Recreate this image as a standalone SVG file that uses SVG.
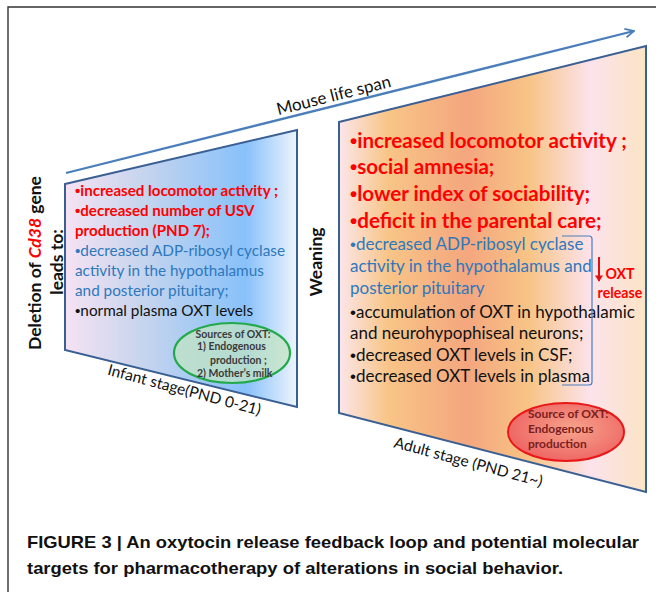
<svg xmlns="http://www.w3.org/2000/svg" width="656" height="592" viewBox="0 0 656 592">
<style>
.t{font-family:Lato,"Open Sans","Liberation Sans",sans-serif}
.bu{font-family:"Liberation Sans",Arial,sans-serif}
.b{font-weight:bold}
.red{fill:#ff0000}
.blu{fill:#2e78bd}
.blk{fill:#111}
.lb{font-size:15.1px}
.lr{font-size:15.3px}
.s16{font-size:17px}
.s19{font-size:20.6px}
.trap{stroke:#3a5f93;stroke-width:2}
.cap{font-family:"Liberation Sans Narrow","Liberation Sans",Arial,sans-serif;font-weight:bold;font-size:17px;fill:#111}
</style>
<defs>
<linearGradient id="gL" gradientUnits="userSpaceOnUse" x1="65" y1="0" x2="297" y2="0">
<stop offset="0" stop-color="#f6e2f3"/>
<stop offset="0.35" stop-color="#c4d4ee"/>
<stop offset="0.78" stop-color="#88c1fa"/>
<stop offset="1" stop-color="#eef4fc"/>
</linearGradient>
<linearGradient id="gR" gradientUnits="userSpaceOnUse" x1="339" y1="0" x2="646" y2="0">
<stop offset="0" stop-color="#fce6ea"/>
<stop offset="0.16" stop-color="#f8c587"/>
<stop offset="0.42" stop-color="#f4a67e"/>
<stop offset="0.62" stop-color="#f8c486"/>
<stop offset="0.82" stop-color="#fce3ec"/>
<stop offset="1" stop-color="#fbe4c4"/>
</linearGradient>
<radialGradient id="gE" cx="0.55" cy="0.45" r="0.6">
<stop offset="0" stop-color="#f6a48c"/>
<stop offset="1" stop-color="#ee6262"/>
</radialGradient>
<marker id="chev" viewBox="0 0 10 10" refX="9" refY="5" markerWidth="5" markerHeight="5" orient="auto" markerUnits="strokeWidth">
<path d="M1,1 L9,5 L1,9" fill="none" stroke="#4a7ebb" stroke-width="1.6"/>
</marker>
<marker id="redArr" viewBox="0 0 10 10" refX="5" refY="9" markerWidth="4" markerHeight="4" orient="0" markerUnits="strokeWidth">
<path d="M0,2 L10,2 L5,10 Z" fill="#e01010"/>
</marker>
</defs>

<g id="frame" stroke="#333" stroke-width="1.4" fill="none">
<path d="M8,592 L8,7 L656,7"/>
</g>

<g id="infant-stage">
<polygon class="trap" points="65,184 297,130 297,407 65,350" fill="url(#gL)"/>
<text class="t b red lb" x="75" y="196"><tspan class="bu">•</tspan>increased locomotor activity ;</text>
<text class="t b red lb" x="75" y="216"><tspan class="bu">•</tspan>decreased number of USV</text>
<text class="t b red lb" x="75" y="236">production (PND 7);</text>
<text class="t blu lr" x="75" y="256"><tspan class="bu">•</tspan>decreased ADP-ribosyl cyclase</text>
<text class="t blu lr" x="75" y="276">activity in the hypothalamus</text>
<text class="t blu lr" x="75" y="296">and posterior pituitary;</text>
<text class="t blk lr" x="75" y="316"><tspan class="bu">•</tspan>normal plasma OXT levels</text>
<text class="t" font-size="15.5" fill="#111" transform="translate(183,395) rotate(15)" text-anchor="middle">Infant stage(PND 0-21)</text>
</g>

<g id="infant-sources">
<ellipse cx="232" cy="353" rx="58" ry="30" fill="#c4e4c0" fill-opacity="0.72" stroke="#22aa4a" stroke-width="2.2"/>
<g class="t b" font-size="10.5" fill="#3a3a3a">
<text x="233" y="337.5" text-anchor="middle">Sources of OXT:</text>
<text x="197" y="350">1) Endogenous</text>
<text x="210" y="363.5">production ;</text>
<text x="197" y="377">2) Mother’s milk</text>
</g>
</g>

<g id="adult-stage">
<polygon class="trap" points="339,122 646,46 646,492 339,413" fill="url(#gR)"/>
<text class="t b red s19" x="350" y="148"><tspan class="bu">•</tspan>increased locomotor activity ;</text>
<text class="t b red s19" x="350" y="174"><tspan class="bu">•</tspan>social amnesia;</text>
<text class="t b red s19" x="350" y="201"><tspan class="bu">•</tspan>lower index of sociability;</text>
<text class="t b red s19" x="350" y="228"><tspan class="bu">•</tspan>deficit in the parental care;</text>
<text class="t blu s16" x="350" y="250"><tspan class="bu">•</tspan>decreased ADP-ribosyl cyclase</text>
<text class="t blu s16" x="350" y="272">activity in the hypothalamus and</text>
<text class="t blu s16" x="350" y="294">posterior pituitary</text>
<text class="t blk s16" x="350" y="318"><tspan class="bu">•</tspan>accumulation of OXT in hypothalamic</text>
<text class="t blk s16" x="350" y="339">and neurohypophiseal neurons;</text>
<text class="t blk s16" x="350" y="360.5"><tspan class="bu">•</tspan>decreased OXT levels in CSF;</text>
<text class="t blk s16" x="350" y="382"><tspan class="bu">•</tspan>decreased OXT levels in plasma</text>
<text class="t" font-size="15.5" fill="#111" transform="translate(467,467) rotate(15)" text-anchor="middle">Adult stage (PND 21~)</text>
</g>

<g id="adult-source">
<ellipse cx="566" cy="432" rx="58" ry="29" fill="url(#gE)" stroke="#e81818" stroke-width="2"/>
<g class="t b" font-size="12" fill="#7a1e1e">
<text x="528" y="418">Source of OXT:</text>
<text x="528" y="433">Endogenous</text>
<text x="528" y="448">production</text>
</g>
</g>

<g id="oxt-release">
<text class="t b red" font-size="14.2" x="620" y="279" text-anchor="middle">OXT</text>
<text class="t b red" font-size="14.2" x="620" y="297.5" text-anchor="middle">release</text>
</g>

<g id="labels">
<text class="t b" font-size="17.5" fill="#111" transform="translate(41,263) rotate(-90)" text-anchor="middle">Deletion of <tspan class="red" font-style="italic">Cd38</tspan> gene</text>
<text class="t b" font-size="17.5" fill="#111" transform="translate(63,262) rotate(-90)" text-anchor="middle">leads to:</text>
<text class="t b" font-size="17.5" fill="#111" transform="translate(322,262) rotate(-90)" text-anchor="middle">Weaning</text>
<text class="t" font-size="17" fill="#111" transform="translate(335,101) rotate(-14.06)" text-anchor="middle">Mouse life span</text>
</g>

<g id="connectors" fill="none">
<line x1="66" y1="173" x2="634" y2="31" stroke="#4a7ebb" stroke-width="2.2" marker-end="url(#chev)"/>
<path d="M562,236 L589,236 Q592,236 592,239 L592,382 Q592,385 589,385 L562,385" stroke="#4a7ebb" stroke-width="1.2"/>
<line x1="599" y1="257" x2="599" y2="281" stroke="#e01010" stroke-width="2" marker-end="url(#redArr)"/>
</g>

<g id="caption">
<text class="cap" x="27" y="548" textLength="612" lengthAdjust="spacingAndGlyphs">FIGURE 3 | An oxytocin release feedback loop and potential molecular</text>
<text class="cap" x="27" y="574" textLength="536" lengthAdjust="spacingAndGlyphs">targets for pharmacotherapy of alterations in social behavior.</text>
</g>
</svg>
